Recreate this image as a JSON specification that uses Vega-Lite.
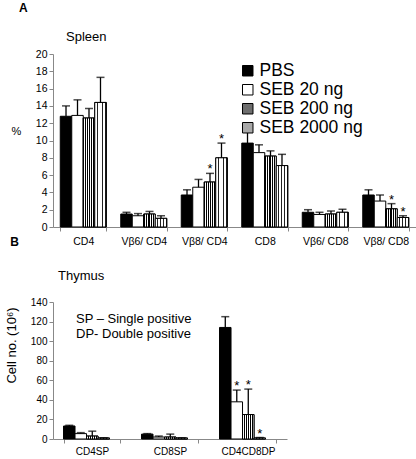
{
  "$schema": "https://vega.github.io/schema/vega-lite/v6.json",
  "padding": {"left": 5, "top": 2, "right": 0, "bottom": 0},
  "spacing": -11,
  "config": {
    "font": "Liberation Sans",
    "view": {"stroke": null},
    "axis": {"domainColor": "#888888", "tickColor": "#888888", "labelColor": "black", "titleColor": "black", "labelFont": "Liberation Sans", "titleFont": "Liberation Sans", "grid": false, "titleFontWeight": "normal", "labelOverlap": false},
    "axisQuantitative": {"labelOverlap": false},
    "axisY": {"labelOverlap": false, "labelSeparation": 0},
    "title": {"font": "Liberation Sans", "color": "black"}
  },
  "datasets": {
    "spleen": [
      {"cat": "CD4", "group": "PBS", "mean": 12.8, "upper": 14.0, "sig": ""},
      {"cat": "CD4", "group": "SEB 20 ng", "mean": 12.9, "upper": 14.7, "sig": ""},
      {"cat": "CD4", "group": "SEB 200 ng", "mean": 12.6, "upper": 13.7, "sig": ""},
      {"cat": "CD4", "group": "SEB 2000 ng", "mean": 14.4, "upper": 17.3, "sig": ""},
      {"cat": "Vβ6/ CD4", "group": "PBS", "mean": 1.5, "upper": 1.7, "sig": ""},
      {"cat": "Vβ6/ CD4", "group": "SEB 20 ng", "mean": 1.3, "upper": 1.55, "sig": ""},
      {"cat": "Vβ6/ CD4", "group": "SEB 200 ng", "mean": 1.5, "upper": 1.8, "sig": ""},
      {"cat": "Vβ6/ CD4", "group": "SEB 2000 ng", "mean": 1.0, "upper": 1.3, "sig": ""},
      {"cat": "Vβ8/ CD4", "group": "PBS", "mean": 3.7, "upper": 4.3, "sig": ""},
      {"cat": "Vβ8/ CD4", "group": "SEB 20 ng", "mean": 4.6, "upper": 5.5, "sig": ""},
      {"cat": "Vβ8/ CD4", "group": "SEB 200 ng", "mean": 5.2, "upper": 6.2, "sig": "*"},
      {"cat": "Vβ8/ CD4", "group": "SEB 2000 ng", "mean": 8.0, "upper": 9.7, "sig": "*"},
      {"cat": "CD8", "group": "PBS", "mean": 9.7, "upper": 11.4, "sig": ""},
      {"cat": "CD8", "group": "SEB 20 ng", "mean": 8.6, "upper": 9.5, "sig": ""},
      {"cat": "CD8", "group": "SEB 200 ng", "mean": 8.2, "upper": 8.8, "sig": ""},
      {"cat": "CD8", "group": "SEB 2000 ng", "mean": 7.1, "upper": 8.4, "sig": ""},
      {"cat": "Vβ6/ CD8", "group": "PBS", "mean": 1.7, "upper": 2.0, "sig": ""},
      {"cat": "Vβ6/ CD8", "group": "SEB 20 ng", "mean": 1.45, "upper": 1.7, "sig": ""},
      {"cat": "Vβ6/ CD8", "group": "SEB 200 ng", "mean": 1.5, "upper": 1.85, "sig": ""},
      {"cat": "Vβ6/ CD8", "group": "SEB 2000 ng", "mean": 1.7, "upper": 2.05, "sig": ""},
      {"cat": "Vβ8/ CD8", "group": "PBS", "mean": 3.7, "upper": 4.3, "sig": ""},
      {"cat": "Vβ8/ CD8", "group": "SEB 20 ng", "mean": 3.0, "upper": 3.7, "sig": ""},
      {"cat": "Vβ8/ CD8", "group": "SEB 200 ng", "mean": 2.1, "upper": 2.7, "sig": "*"},
      {"cat": "Vβ8/ CD8", "group": "SEB 2000 ng", "mean": 1.1, "upper": 1.3, "sig": "*"}
    ],
    "thymus": [
      {"cat": "CD4SP", "group": "PBS", "mean": 13.3, "upper": 14.0, "sig": ""},
      {"cat": "CD4SP", "group": "SEB 20 ng", "mean": 5.5, "upper": 6.5, "sig": ""},
      {"cat": "CD4SP", "group": "SEB 200 ng", "mean": 3.0, "upper": 8.0, "sig": ""},
      {"cat": "CD4SP", "group": "SEB 2000 ng", "mean": 1.0, "upper": 1.2, "sig": ""},
      {"cat": "CD8SP", "group": "PBS", "mean": 5.0, "upper": 5.5, "sig": ""},
      {"cat": "CD8SP", "group": "SEB 20 ng", "mean": 2.0, "upper": 3.0, "sig": ""},
      {"cat": "CD8SP", "group": "SEB 200 ng", "mean": 2.0, "upper": 5.0, "sig": ""},
      {"cat": "CD8SP", "group": "SEB 2000 ng", "mean": 1.0, "upper": 1.2, "sig": ""},
      {"cat": "CD4CD8DP", "group": "PBS", "mean": 114, "upper": 125, "sig": ""},
      {"cat": "CD4CD8DP", "group": "SEB 20 ng", "mean": 38, "upper": 50, "sig": "*"},
      {"cat": "CD4CD8DP", "group": "SEB 200 ng", "mean": 25, "upper": 51, "sig": "*"},
      {"cat": "CD4CD8DP", "group": "SEB 2000 ng", "mean": 1.0, "upper": 1.5, "sig": "*"}
    ]
  },
  "vconcat": [
    {
      "title": {"text": "A", "anchor": "start", "frame": "bounds", "fontSize": 12, "fontWeight": "bold", "dx": 8, "offset": 16},
      "vconcat": [
        {
          "width": 363,
          "height": 173,
          "title": {"text": "Spleen", "anchor": "start", "frame": "group", "dx": 13, "fontSize": 13, "fontWeight": "normal", "offset": 5},
          "data": {"name": "spleen"},
          "encoding": {
            "x": {"field": "cat", "type": "nominal", "sort": null, "scale": {"paddingInner": 0.24, "paddingOuter": 0.12},
                  "axis": {"title": null, "labelAngle": 0, "tickBand": "extent", "labelFontSize": 10.5, "labelPadding": 5, "tickSize": 4}},
            "xOffset": {"field": "group", "type": "nominal", "sort": ["PBS", "SEB 20 ng", "SEB 200 ng", "SEB 2000 ng"], "scale": {"paddingInner": 0, "paddingOuter": 0}},
            "y": {"field": "mean", "type": "quantitative", "scale": {"domain": [0, 20], "nice": false},
                  "axis": {"values": [0,2,4,6,8,10,12,14,16,18,20], "labelOverlap": false, "labelFontSize": 10.5, "tickSize": 4, "title": "%", "titleAngle": 0, "titleAlign": "center", "titleBaseline": "middle", "titleX": -37, "titleY": 77, "titleFontSize": 11}}
          },
          "layer": [
            {
              "mark": {"type": "bar", "stroke": "black", "strokeWidth": 1},
              "encoding": {
                "fill": {"field": "group", "type": "nominal", "sort": ["PBS", "SEB 20 ng", "SEB 200 ng", "SEB 2000 ng"],
                  "scale": {"domain": ["PBS", "SEB 20 ng", "SEB 200 ng", "SEB 2000 ng"], "range": ["black", "white", "#6e6e6e", "#a8a8a8"]},
                  "legend": {"orient": "none", "legendX": 186, "legendY": 8, "title": null, "symbolType": "square", "symbolSize": 110, "symbolStrokeColor": "black", "symbolStrokeWidth": 1, "labelFontSize": 17.5, "labelColor": "black", "labelFont": "Liberation Sans", "rowPadding": 0, "labelOffset": 3}
                }
              }
            },
            {
              "transform": [{"filter": "datum.group === 'SEB 200 ng'"}],
              "mark": {"type": "bar", "stroke": "black", "strokeWidth": 1,
                "fill": {"gradient": "linear", "x1": 0, "y1": 0, "x2": 1, "y2": 0, "stops": [
                      {"offset": 0, "color": "black"}, {"offset": 0.0833, "color": "black"}, {"offset": 0.0833, "color": "white"}, {"offset": 0.1667, "color": "white"},
                      {"offset": 0.1667, "color": "black"}, {"offset": 0.25, "color": "black"}, {"offset": 0.25, "color": "white"}, {"offset": 0.3333, "color": "white"},
                      {"offset": 0.3333, "color": "black"}, {"offset": 0.4167, "color": "black"}, {"offset": 0.4167, "color": "white"}, {"offset": 0.5, "color": "white"},
                      {"offset": 0.5, "color": "black"}, {"offset": 0.5833, "color": "black"}, {"offset": 0.5833, "color": "white"}, {"offset": 0.6667, "color": "white"},
                      {"offset": 0.6667, "color": "black"}, {"offset": 0.75, "color": "black"}, {"offset": 0.75, "color": "white"}, {"offset": 0.8333, "color": "white"},
                      {"offset": 0.8333, "color": "black"}, {"offset": 0.9167, "color": "black"}, {"offset": 0.9167, "color": "white"}, {"offset": 1, "color": "white"}]}}
            },
            {
              "transform": [{"filter": "datum.group === 'SEB 2000 ng'"}],
              "mark": {"type": "bar", "stroke": "black", "strokeWidth": 1,
                "fill": {"gradient": "linear", "x1": 0, "y1": 0, "x2": 1, "y2": 0, "stops": [
                      {"offset": 0, "color": "white"}, {"offset": 0.17, "color": "white"}, {"offset": 0.17, "color": "#222222"}, {"offset": 0.25, "color": "#222222"},
                      {"offset": 0.25, "color": "white"}, {"offset": 0.42, "color": "white"}, {"offset": 0.42, "color": "#222222"}, {"offset": 0.5, "color": "#222222"},
                      {"offset": 0.5, "color": "white"}, {"offset": 0.67, "color": "white"}, {"offset": 0.67, "color": "#222222"}, {"offset": 0.75, "color": "#222222"},
                      {"offset": 0.75, "color": "white"}, {"offset": 0.92, "color": "white"}, {"offset": 0.92, "color": "#222222"}, {"offset": 1, "color": "#222222"}]}}
            },
            {
              "mark": {"type": "rule", "color": "black", "strokeWidth": 1.3},
              "encoding": {"y2": {"field": "upper"}}
            },
            {
              "mark": {"type": "tick", "color": "black", "size": 8, "thickness": 1.5},
              "encoding": {"y": {"field": "upper", "type": "quantitative", "axis": {"values": [0,2,4,6,8,10,12,14,16,18,20], "labelOverlap": false, "title": "%"}}}
            },
            {
              "mark": {"type": "text", "color": "black", "fontSize": 13, "baseline": "alphabetic", "dy": 0},
              "encoding": {"y": {"field": "upper", "type": "quantitative", "axis": {"values": [0,2,4,6,8,10,12,14,16,18,20], "labelOverlap": false, "title": "%"}}, "text": {"field": "sig"}}
            }
          ]
        }
      ]
    },
    {
      "title": {"text": "B", "anchor": "start", "frame": "bounds", "fontSize": 12, "fontWeight": "bold", "dx": 5, "offset": 21},
      "vconcat": [
        {
          "width": 234,
          "height": 137,
          "title": {"text": "Thymus", "anchor": "start", "frame": "group", "dx": 5, "fontSize": 13, "fontWeight": "normal", "offset": 14},
          "data": {"name": "thymus"},
          "encoding": {
            "x": {"field": "cat", "type": "nominal", "sort": null, "scale": {"paddingInner": 0.27, "paddingOuter": 0.135},
                  "axis": {"title": null, "labelAngle": 0, "tickBand": "extent", "labelFontSize": 10, "labelPadding": 3, "tickSize": 4}},
            "xOffset": {"field": "group", "type": "nominal", "sort": ["PBS", "SEB 20 ng", "SEB 200 ng", "SEB 2000 ng"], "scale": {"paddingInner": 0, "paddingOuter": 0}},
            "y": {"field": "mean", "type": "quantitative", "scale": {"domain": [0, 140], "nice": false},
                  "axis": {"values": [0,20,40,60,80,100,120,140], "labelOverlap": false, "labelFontSize": 10, "tickSize": 4, "title": "Cell no. (10⁶)", "titleAngle": -90, "titleY": 43, "titlePadding": 12, "titleFontSize": 13}}
          },
          "layer": [
            {
              "mark": {"type": "bar", "stroke": "black", "strokeWidth": 1},
              "encoding": {
                "fill": {"field": "group", "type": "nominal", "sort": ["PBS", "SEB 20 ng", "SEB 200 ng", "SEB 2000 ng"],
                  "scale": {"domain": ["PBS", "SEB 20 ng", "SEB 200 ng", "SEB 2000 ng"], "range": ["black", "white", "#6e6e6e", "#a8a8a8"]},
                  "legend": null
                }
              }
            },
            {
              "transform": [{"filter": "datum.group === 'SEB 200 ng'"}],
              "mark": {"type": "bar", "stroke": "black", "strokeWidth": 1,
                "fill": {"gradient": "linear", "x1": 0, "y1": 0, "x2": 1, "y2": 0, "stops": [
                      {"offset": 0, "color": "black"}, {"offset": 0.0833, "color": "black"}, {"offset": 0.0833, "color": "white"}, {"offset": 0.1667, "color": "white"},
                      {"offset": 0.1667, "color": "black"}, {"offset": 0.25, "color": "black"}, {"offset": 0.25, "color": "white"}, {"offset": 0.3333, "color": "white"},
                      {"offset": 0.3333, "color": "black"}, {"offset": 0.4167, "color": "black"}, {"offset": 0.4167, "color": "white"}, {"offset": 0.5, "color": "white"},
                      {"offset": 0.5, "color": "black"}, {"offset": 0.5833, "color": "black"}, {"offset": 0.5833, "color": "white"}, {"offset": 0.6667, "color": "white"},
                      {"offset": 0.6667, "color": "black"}, {"offset": 0.75, "color": "black"}, {"offset": 0.75, "color": "white"}, {"offset": 0.8333, "color": "white"},
                      {"offset": 0.8333, "color": "black"}, {"offset": 0.9167, "color": "black"}, {"offset": 0.9167, "color": "white"}, {"offset": 1, "color": "white"}]}}
            },
            {
              "transform": [{"filter": "datum.group === 'SEB 2000 ng'"}],
              "mark": {"type": "bar", "stroke": "black", "strokeWidth": 1,
                "fill": {"gradient": "linear", "x1": 0, "y1": 0, "x2": 1, "y2": 0, "stops": [
                      {"offset": 0, "color": "white"}, {"offset": 0.17, "color": "white"}, {"offset": 0.17, "color": "#222222"}, {"offset": 0.25, "color": "#222222"},
                      {"offset": 0.25, "color": "white"}, {"offset": 0.42, "color": "white"}, {"offset": 0.42, "color": "#222222"}, {"offset": 0.5, "color": "#222222"},
                      {"offset": 0.5, "color": "white"}, {"offset": 0.67, "color": "white"}, {"offset": 0.67, "color": "#222222"}, {"offset": 0.75, "color": "#222222"},
                      {"offset": 0.75, "color": "white"}, {"offset": 0.92, "color": "white"}, {"offset": 0.92, "color": "#222222"}, {"offset": 1, "color": "#222222"}]}}
            },
            {
              "mark": {"type": "rule", "color": "black", "strokeWidth": 1.3},
              "encoding": {"y2": {"field": "upper"}}
            },
            {
              "mark": {"type": "tick", "color": "black", "size": 8, "thickness": 1.5},
              "encoding": {"y": {"field": "upper", "type": "quantitative", "axis": {"values": [0,20,40,60,80,100,120,140], "labelOverlap": false, "title": "Cell no. (10⁶)"}}}
            },
            {
              "mark": {"type": "text", "color": "black", "fontSize": 13, "baseline": "alphabetic", "dy": 0},
              "encoding": {"y": {"field": "upper", "type": "quantitative", "axis": {"values": [0,20,40,60,80,100,120,140], "labelOverlap": false, "title": "Cell no. (10⁶)"}}, "text": {"field": "sig"}}
            },
            {
              "transform": [{"filter": "datum.cat === 'CD4SP' && datum.group === 'PBS'"}],
              "mark": {"type": "text", "color": "black", "fontSize": 13, "align": "left", "baseline": "middle", "lineHeight": 15, "dx": -16,
                       "text": ["SP – Single positive", "DP- Double positive"]},
              "encoding": {"x": {"datum": "CD4SP"}, "xOffset": null, "y": {"datum": 122.5, "axis": {"values": [0,20,40,60,80,100,120,140], "labelOverlap": false, "title": "Cell no. (10⁶)"}}}
            }
          ]
        }
      ]
    }
  ]
}
